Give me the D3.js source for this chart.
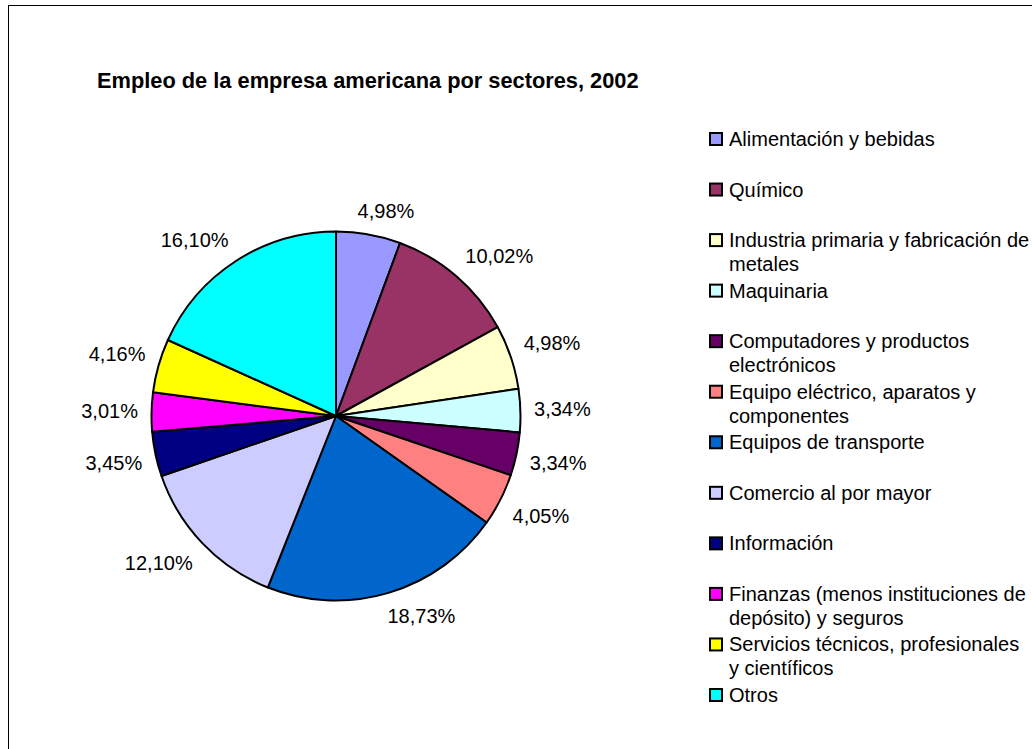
<!DOCTYPE html>
<html>
<head>
<meta charset="utf-8">
<script src="https://cdn.jsdelivr.net/npm/d3@7"></script>
<style>
  html, body { margin: 0; padding: 0; background: #fff; }
  svg { display: block; font-family: "Liberation Sans", Arial, sans-serif; }
</style>
</head>
<body>
<svg id="chart" width="1032" height="749"></svg>
<script>
const title = "Empleo de la empresa americana por sectores, 2002";
const categories = [
  "Alimentación y bebidas",
  "Químico",
  "Industria primaria y fabricación de metales",
  "Maquinaria",
  "Computadores y productos electrónicos",
  "Equipo eléctrico, aparatos y componentes",
  "Equipos de transporte",
  "Comercio al por mayor",
  "Información",
  "Finanzas (menos instituciones de depósito) y seguros",
  "Servicios técnicos, profesionales y científicos",
  "Otros"
];
const values = [4.98, 10.02, 4.98, 3.34, 3.34, 4.05, 18.73, 12.10, 3.45, 3.01, 4.16, 16.10];
const labels = ["4,98%", "10,02%", "4,98%", "3,34%", "3,34%", "4,05%", "18,73%", "12,10%", "3,45%", "3,01%", "4,16%", "16,10%"];
const colors = ["#9999FF", "#993366", "#FFFFCC", "#CCFFFF", "#660066", "#FF8080",
                "#0066CC", "#CCCCFF", "#000080", "#FF00FF", "#FFFF00", "#00FFFF"];

const svg = d3.select("#chart");

// outer frame (extends beyond the visible area on right/bottom)
svg.append("rect")
  .attr("x", 8.5).attr("y", 5.5)
  .attr("width", 1200).attr("height", 900)
  .attr("fill", "#fff").attr("stroke", "#000").attr("stroke-width", 1);

// title
svg.append("text")
  .attr("x", 97).attr("y", 88)
  .attr("font-size", 21.8).attr("font-weight", "bold")
  .attr("fill", "#000")
  .text(title);

// pie
const cx = 336, cy = 416, R = 184.5;
const data = categories.map((c, i) => ({ name: c, value: values[i], label: labels[i], color: colors[i] }));
const pie = d3.pie().value(d => d.value).sort(null);
const arcs = pie(data);
const arc = d3.arc().innerRadius(0).outerRadius(R);
const labelArc = d3.arc().innerRadius(198).outerRadius(198);

const g = svg.append("g").attr("transform", `translate(${cx},${cy})`);
g.selectAll("path.slice")
  .data(arcs)
  .join("path")
  .attr("class", "slice")
  .attr("d", arc)
  .attr("fill", d => d.data.color)
  .attr("stroke", "#000")
  .attr("stroke-width", 2)
  .attr("stroke-linejoin", "round");

const sat = v => Math.max(-1, Math.min(1, 3 * v));
g.selectAll("text.lbl")
  .data(arcs)
  .join("text")
  .attr("class", "lbl")
  .attr("font-size", 20)
  .attr("fill", "#000")
  .attr("text-anchor", "middle")
  .attr("dominant-baseline", "central")
  .text(d => d.data.label)
  .each(function(d) {
    const bb = this.getBBox();
    const a = (d.startAngle + d.endAngle) / 2;
    const [px, py] = labelArc.centroid(d);
    const x = px + (bb.width / 2) * sat(Math.sin(a));
    const y = py - 10 * sat(Math.cos(a));
    d3.select(this).attr("x", x).attr("y", y);
  });

// legend
const ly = d3.scalePoint().domain(categories).range([139, 695]);
const legend = svg.append("g");
const maxW = 303;
const items = legend.selectAll("g.item")
  .data(data)
  .join("g")
  .attr("class", "item")
  .attr("transform", d => `translate(0,${ly(d.name)})`);
items.append("rect")
  .attr("x", 710).attr("y", -6)
  .attr("width", 12).attr("height", 12)
  .attr("fill", d => d.color)
  .attr("stroke", "#000").attr("stroke-width", 2);
items.append("text")
  .attr("x", 729)
  .attr("font-size", 20)
  .attr("fill", "#000")
  .each(function(d) {
    const t = d3.select(this);
    const words = d.name.split(" ");
    let line = [];
    let lineNo = 0;
    let tspan = t.append("tspan").attr("x", 729).attr("y", 7);
    words.forEach(w => {
      line.push(w);
      tspan.text(line.join(" "));
      if (tspan.node().getComputedTextLength() > maxW && line.length > 1) {
        line.pop();
        tspan.text(line.join(" "));
        line = [w];
        lineNo++;
        tspan = t.append("tspan").attr("x", 729).attr("y", 7 + lineNo * 24).text(w);
      }
    });
  });
</script>
</body>
</html>
